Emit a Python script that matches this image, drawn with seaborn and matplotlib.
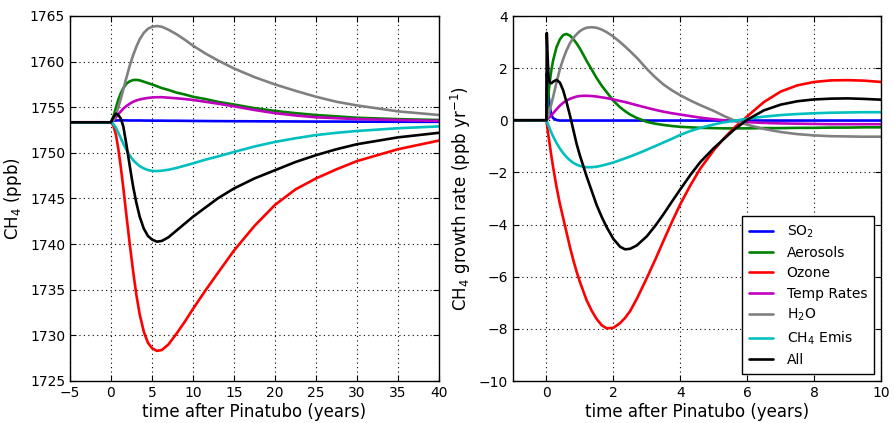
import matplotlib
matplotlib.use("Agg")
import matplotlib.pyplot as plt
import seaborn as sns

# ---------------- data: left panel (CH4 ppb) ----------------
t_left = [-5, 0, 0.3, 0.6, 0.9, 1.2, 1.5, 1.9, 2.3, 2.7, 3.1, 3.5, 4.0, 4.5, 5.0, 5.6,
          6.2, 7.0, 8.0, 9.0, 10, 11.5, 13, 15, 17.5, 20, 22.5, 25, 27.5, 30, 35, 40]

so2_left = [1753.35, 1753.35, 1753.52, 1753.55, 1753.56, 1753.56, 1753.56, 1753.56, 1753.55,
            1753.55, 1753.55, 1753.55, 1753.54, 1753.54, 1753.53, 1753.53, 1753.53, 1753.52,
            1753.52, 1753.51, 1753.50, 1753.49, 1753.48, 1753.47, 1753.46, 1753.45, 1753.44,
            1753.43, 1753.43, 1753.42, 1753.41, 1753.40]
aer_left = [1753.35, 1753.35, 1754.0, 1754.95, 1755.85, 1756.55, 1757.1, 1757.6, 1757.85,
            1757.98, 1758.0, 1757.95, 1757.8, 1757.65, 1757.5, 1757.3, 1757.1, 1756.9,
            1756.6, 1756.4, 1756.15, 1755.9, 1755.6, 1755.3, 1754.9, 1754.6, 1754.35,
            1754.15, 1754.0, 1753.85, 1753.7, 1753.6]
ozone_left = [1753.35, 1753.35, 1752.95, 1752.0, 1750.4, 1748.4, 1746.2, 1743.0, 1739.9,
              1737.0, 1734.4, 1732.3, 1730.4, 1729.2, 1728.6, 1728.3, 1728.4, 1729.0,
              1730.2, 1731.5, 1732.9, 1734.9, 1736.8, 1739.3, 1742.0, 1744.3, 1746.0,
              1747.2, 1748.2, 1749.1, 1750.4, 1751.35]
temp_left = [1753.35, 1753.35, 1753.55, 1753.9, 1754.25, 1754.55, 1754.85, 1755.15, 1755.4,
             1755.6, 1755.75, 1755.85, 1755.95, 1756.02, 1756.07, 1756.1, 1756.1, 1756.05,
             1755.98, 1755.9, 1755.8, 1755.6, 1755.4, 1755.1, 1754.7, 1754.35, 1754.1,
             1753.9, 1753.8, 1753.7, 1753.6, 1753.5]
h2o_left = [1753.35, 1753.35, 1753.6, 1754.2, 1755.0, 1755.95, 1756.95, 1758.3, 1759.6,
            1760.7, 1761.65, 1762.45, 1763.15, 1763.6, 1763.82, 1763.9, 1763.82, 1763.5,
            1763.0, 1762.4, 1761.75, 1760.9, 1760.15, 1759.25, 1758.3, 1757.5, 1756.8,
            1756.15, 1755.6, 1755.2, 1754.55, 1754.15]
emis_left = [1753.35, 1753.35, 1753.15, 1752.75, 1752.2, 1751.6, 1751.0, 1750.3, 1749.7,
             1749.2, 1748.85, 1748.55, 1748.3, 1748.12, 1748.03, 1748.0, 1748.05, 1748.15,
             1748.35, 1748.6, 1748.85, 1749.25, 1749.6, 1750.1, 1750.7, 1751.2, 1751.6,
             1751.95, 1752.2, 1752.4, 1752.7, 1752.9]
all_left = [1753.35, 1753.35, 1753.9, 1754.3, 1754.15, 1753.75, 1752.9, 1750.8, 1748.5,
            1746.3, 1744.5, 1743.0, 1741.7, 1740.9, 1740.5, 1740.27, 1740.35, 1740.75,
            1741.5, 1742.25, 1743.0, 1744.0, 1745.0, 1746.1, 1747.2, 1748.1, 1749.0,
            1749.75, 1750.4, 1750.95, 1751.7, 1752.2]

# ---------------- data: right panel (growth rate) ----------------
t_right = [-1, 0, 0.01, 0.03, 0.06, 0.1, 0.15, 0.2, 0.3, 0.4, 0.5, 0.6, 0.7, 0.8, 0.9,
           1.0, 1.1, 1.2, 1.35, 1.5, 1.65, 1.8, 2.0, 2.2, 2.35, 2.5, 2.7, 3.0, 3.25, 3.5,
           3.75, 4.0, 4.3, 4.6, 5.0, 5.3, 5.6, 6.0, 6.5, 7.0, 7.5, 8.0, 8.5, 9.0, 9.5, 10]

so2_right = [0, 0, 1.8, 1.6, 1.0, 0.5, 0.2, 0.08, 0.01, -0.01, -0.01, -0.01, -0.01, -0.01,
             -0.01, -0.01, -0.01, -0.01, -0.01, -0.01, -0.01, -0.01, -0.01, -0.01, -0.01,
             -0.01, -0.01, -0.01, -0.01, -0.01, -0.01, -0.01, -0.01, -0.01, -0.01, -0.01,
             -0.01, -0.01, -0.01, -0.01, -0.01, -0.01, -0.01, -0.01, -0.01, -0.01]
aer_right = [0, 0, 0.15, 0.5, 1.0, 1.5, 1.95, 2.3, 2.8, 3.1, 3.27, 3.31, 3.25, 3.12, 2.95,
             2.75, 2.52, 2.28, 1.95, 1.62, 1.33, 1.08, 0.75, 0.5, 0.35, 0.22, 0.09, -0.06,
             -0.13, -0.18, -0.22, -0.25, -0.27, -0.29, -0.3, -0.31, -0.31, -0.31, -0.3,
             -0.3, -0.29, -0.29, -0.28, -0.28, -0.27, -0.27]
ozone_right = [0, 0, -0.1, -0.3, -0.6, -0.95, -1.4, -1.8, -2.55, -3.2, -3.75, -4.3, -4.85,
               -5.35, -5.8, -6.2, -6.55, -6.9, -7.3, -7.62, -7.86, -7.98, -7.96, -7.78,
               -7.58, -7.32, -6.85, -6.05, -5.35, -4.62, -3.9, -3.22, -2.5, -1.85, -1.15,
               -0.7, -0.3, 0.15, 0.7, 1.1, 1.34, 1.47, 1.53, 1.54, 1.52, 1.47]
temp_right = [0, 0, 0.01, 0.04, 0.08, 0.13, 0.2, 0.27, 0.42, 0.56, 0.67, 0.76, 0.82, 0.87,
              0.91, 0.93, 0.94, 0.94, 0.93, 0.91, 0.88, 0.85, 0.8, 0.74, 0.7, 0.65, 0.58,
              0.48, 0.4, 0.33, 0.27, 0.22, 0.16, 0.1, 0.04, 0.0, -0.03, -0.07, -0.1, -0.12,
              -0.13, -0.14, -0.15, -0.15, -0.15, -0.15]
h2o_right = [0, 0, 0.03, 0.1, 0.22, 0.4, 0.65, 0.9, 1.45, 1.95, 2.35, 2.68, 2.95, 3.15, 3.3,
             3.42, 3.5, 3.55, 3.57, 3.55, 3.48, 3.38, 3.21, 3.0, 2.83, 2.65, 2.4, 1.97, 1.65,
             1.37, 1.15, 0.96, 0.76, 0.58, 0.36, 0.17, 0.0, -0.17, -0.33, -0.45, -0.53,
             -0.58, -0.61, -0.62, -0.63, -0.63]
emis_right = [0, 0, -0.03, -0.1, -0.2, -0.33, -0.48, -0.62, -0.87, -1.08, -1.26, -1.41,
              -1.53, -1.63, -1.7, -1.75, -1.78, -1.8, -1.8, -1.78, -1.74, -1.69, -1.62,
              -1.53, -1.46, -1.39, -1.29, -1.13, -0.99, -0.85, -0.71, -0.56, -0.41, -0.29,
              -0.16, -0.08, -0.02, 0.06, 0.14, 0.2, 0.24, 0.27, 0.29, 0.3, 0.31, 0.31]
all_right = [0, 0, 3.35, 2.6, 1.7, 1.45, 1.42, 1.48, 1.55, 1.45, 1.15, 0.7, 0.2, -0.35,
             -0.9, -1.35, -1.75, -2.15, -2.7, -3.25, -3.7, -4.1, -4.55, -4.85, -4.95, -4.93,
             -4.8, -4.45, -4.05, -3.6, -3.12, -2.65, -2.1, -1.6, -1.07, -0.72, -0.37, 0.02,
             0.38, 0.6, 0.73, 0.8, 0.83, 0.84, 0.82, 0.79]

labels = ["SO$_2$", "Aerosols", "Ozone", "Temp Rates", "H$_2$O", "CH$_4$ Emis", "All"]
colors = ["#0000ff", "#008000", "#ff0000", "#bf00bf", "#808080", "#00bfbf", "#000000"]
left_series = [so2_left, aer_left, ozone_left, temp_left, h2o_left, emis_left, all_left]
right_series = [so2_right, aer_right, ozone_right, temp_right, h2o_right, emis_right, all_right]

x_label = "time after Pinatubo (years)"
y_label_left = "CH$_4$ (ppb)"
y_label_right = "CH$_4$ growth rate (ppb yr$^{-1}$)"

# ---------------- style ----------------
sns.set_style("ticks")
plt.rcParams.update({
    "font.family": ["DejaVu Sans"],
    "mathtext.fontset": "dejavusans",
    "text.color": "black",
    "axes.labelcolor": "black",
    "xtick.direction": "in",
    "ytick.direction": "in",
    "xtick.top": True,
    "ytick.right": True,
    "xtick.major.size": 4,
    "ytick.major.size": 4,
    "xtick.color": "black",
    "ytick.color": "black",
    "xtick.labelcolor": "black",
    "ytick.labelcolor": "black",
    "axes.edgecolor": "black",
    "axes.linewidth": 1.0,
    "xtick.labelsize": 10,
    "ytick.labelsize": 10,
    "axes.labelsize": 12,
})

fig = plt.figure(figsize=(8.95, 4.23), dpi=100)
axL = fig.add_axes([70 / 895, 1 - 381 / 423, 369 / 895, 365 / 423])
axR = fig.add_axes([513 / 895, 1 - 381 / 423, 368 / 895, 365 / 423])

for vals, lab, col in zip(left_series, labels, colors):
    sns.lineplot(x=t_left, y=vals, color=col, lw=1.9, ax=axL, estimator=None,
                 sort=False, legend=False)
for vals, lab, col in zip(right_series, labels, colors):
    sns.lineplot(x=t_right, y=vals, color=col, lw=1.9, ax=axR, estimator=None,
                 sort=False, label=lab)

axL.set_xlim(-5, 40)
axL.set_ylim(1725, 1765)
axL.set_xticks(range(-5, 41, 5))
axL.set_yticks(range(1725, 1766, 5))
axL.set_xlabel(x_label)
axL.set_ylabel(y_label_left)

axR.set_xlim(-1, 10)
axR.set_ylim(-10, 4)
axR.set_xticks(range(0, 11, 2))
axR.set_yticks(range(-10, 5, 2))
axR.set_xlabel(x_label)
axR.set_ylabel(y_label_right)

for ax in (axL, axR):
    ax.grid(True, linestyle=(0, (1, 3)), color="black", linewidth=0.8)
    ax.set_axisbelow(True)
    ax.xaxis.labelpad = 2

leg = axR.legend(loc="lower right", fontsize=10, frameon=True, fancybox=False,
                 edgecolor="black", framealpha=1, handlelength=1.7, handletextpad=1.0,
                 labelspacing=0.45, borderpad=0.5, borderaxespad=0.5)
leg.get_frame().set_linewidth(1.0)
for txt in leg.get_texts():
    txt.set_color("black")

fig.savefig("out.png", dpi=100)
